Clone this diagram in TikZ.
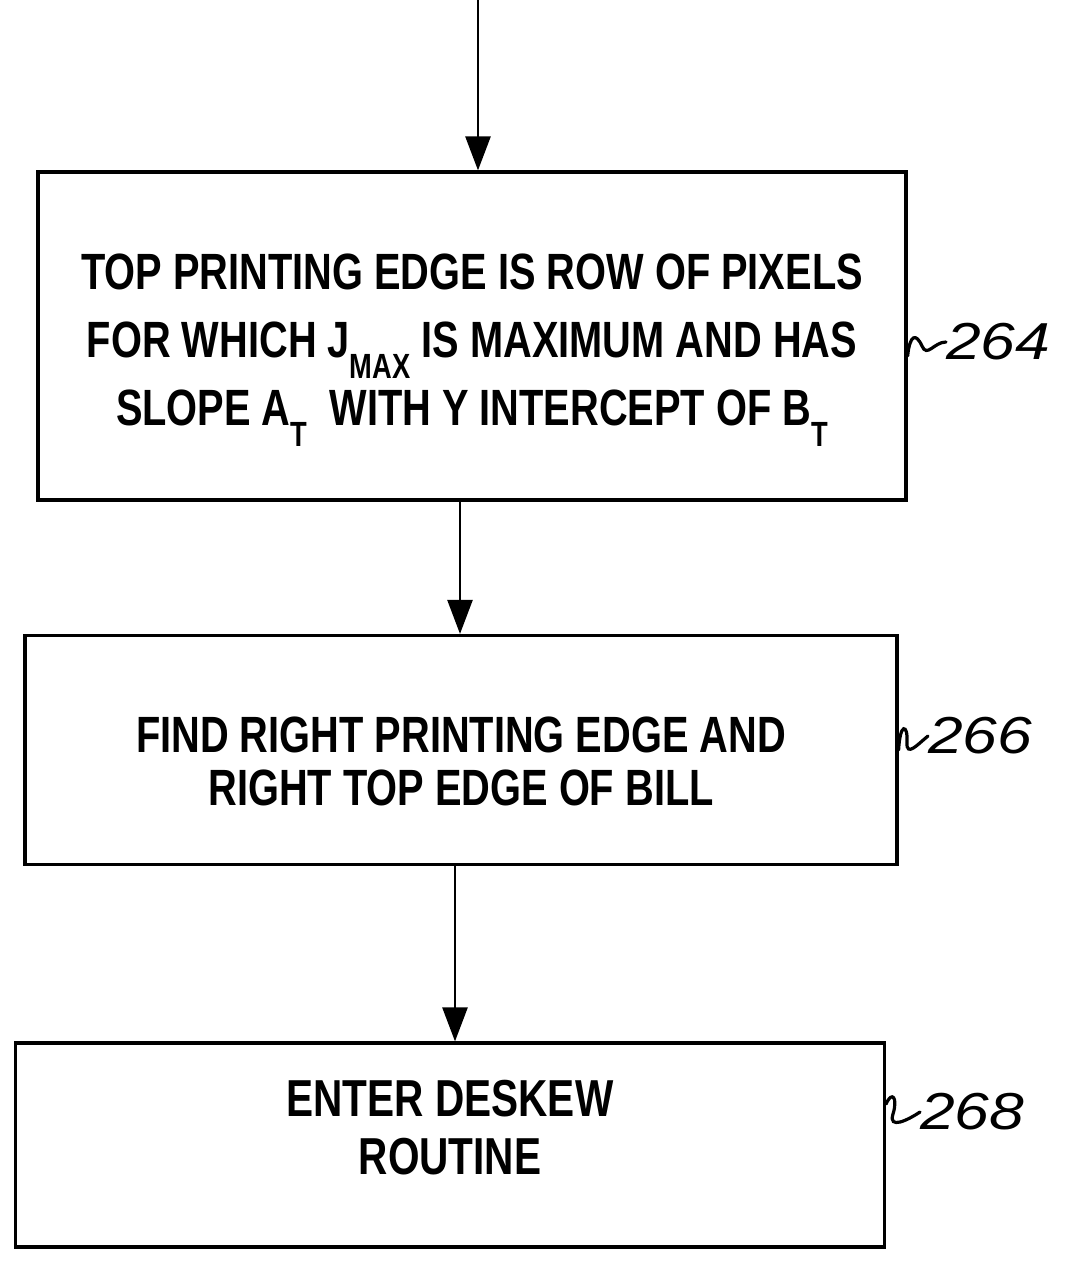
\documentclass[tikz,border=0pt]{standalone}
\usepackage{fontspec}
\newfontfamily\boxfont{Liberation Sans}[FakeStretch=0.78]
\newfontfamily\labfont{Liberation Sans}[FakeStretch=1.2]
\usetikzlibrary{arrows.meta}
\newcommand\lsub[1]{\raisebox{-0.42em}{\fontsize{35}{35}\selectfont #1}}
\begin{document}
\begin{tikzpicture}[x=1pt,y=-1pt,
  box/.style={draw, line width=3.2pt, inner sep=0pt},
  txt/.style={align=center, inner sep=0pt},
  arr/.style={line width=2.6pt, -{Triangle[width=25pt,length=34pt]}},
  lab/.style={font=\labfont\itshape\fontsize{52}{52}\selectfont, inner sep=0pt},
  sq/.style={line width=3.2pt, line cap=round}]
\useasboundingbox (0,0) rectangle (1074,1262);

\node[box, minimum width=868pt, minimum height=328pt] (b1) at (472,336) {};
\node[txt, font=\boxfont\bfseries\fontsize{51}{68}\selectfont] (t1)
  at ([yshift=-14pt]b1.center)
  {TOP PRINTING EDGE IS ROW OF PIXELS\\
   FOR WHICH J\lsub{MAX} IS MAXIMUM AND HAS\\
   SLOPE A\lsub{T}\ \ WITH Y INTERCEPT OF B\lsub{T}};

\node[box, minimum width=872pt, minimum height=229pt] (b2) at (461,750) {};
\node[txt, font=\boxfont\bfseries\fontsize{51}{53}\selectfont] (t2)
  at ([yshift=-11pt]b2.center)
  {FIND RIGHT PRINTING EDGE AND\\ RIGHT TOP EDGE OF BILL};

\node[box, minimum width=869pt, minimum height=204pt] (b3) at (450,1145) {};
\node[txt, font=\boxfont\bfseries\fontsize{52}{58}\selectfont] (t3)
  at ([yshift=17pt]b3.center)
  {ENTER DESKEW\\ ROUTINE};

\coordinate (start) at (478,0);
\draw[arr] (start) -- (start |- b1.north);
\draw[arr] ([xshift=-12pt]b1.south) -- ([xshift=-12pt]b1.south |- b2.north);
\draw[arr] ([xshift=-6pt]b2.south) -- ([xshift=-6pt]b2.south |- b3.north);

\node[lab, anchor=west] (l264) at (946,342) {264};
\node[lab, anchor=west] (l266) at (928,736) {266};
\node[lab, anchor=west] (l268) at (920,1112) {268};

\draw[sq] (b1.east |- 0,356) .. controls (910,334) and (916,333) .. (922,346)
          .. controls (927,358) and (934,342) .. (l264.west);
\draw[sq] (b2.east |- 0,750) .. controls (900,722) and (908,724) .. (907,742)
          .. controls (906,758) and (918,744) .. (l266.west);
\draw[sq] (b3.east |- 0,1104) .. controls (892,1090) and (898,1098) .. (893,1114)
          .. controls (888,1130) and (908,1120) .. (l268.west);
\end{tikzpicture}
\end{document}
